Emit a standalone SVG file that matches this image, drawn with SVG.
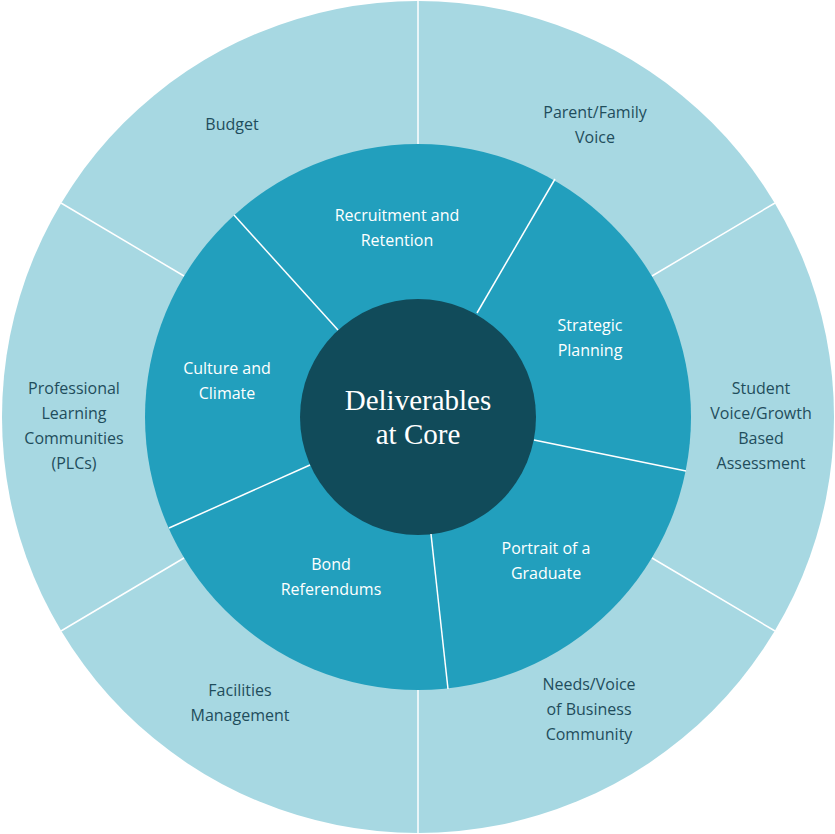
<svg xmlns="http://www.w3.org/2000/svg" width="835" height="834" viewBox="0 0 835 834">
<style>
.o{fill:#1f4d5c;font-family:"Open Sans",sans-serif;font-size:16px;text-anchor:middle}
.m{fill:#ffffff;font-family:"Open Sans",sans-serif;font-size:16px;text-anchor:middle}
.c{fill:#ffffff;font-family:"Liberation Serif",serif;font-size:29px;text-anchor:middle}
.d{stroke:#ffffff;stroke-width:1.5}
</style>
<rect width="835" height="834" fill="#ffffff"/>
<g id="outer-ring"><circle cx="418" cy="417" r="416" fill="#a7d8e2"/></g>
<g id="middle-ring"><circle cx="418" cy="417" r="273" fill="#229fbd"/></g>
<g id="core"><circle cx="418" cy="417" r="118" fill="#114b5a"/>
<text class="c" x="418" y="410">Deliverables</text><text class="c" x="418" y="444">at Core</text></g>
<g id="connectors">
<line class="d" x1="418" y1="144" x2="418" y2="1"/>
<line class="d" x1="652" y1="276" x2="775" y2="203"/>
<line class="d" x1="652" y1="558" x2="775" y2="631"/>
<line class="d" x1="418" y1="690" x2="418" y2="833"/>
<line class="d" x1="184" y1="558" x2="61" y2="631"/>
<line class="d" x1="184" y1="276" x2="61" y2="203"/>
<line class="d" x1="477" y1="313" x2="555" y2="179"/>
<line class="d" x1="534" y1="440" x2="686" y2="471"/>
<line class="d" x1="431" y1="534" x2="448" y2="689"/>
<line class="d" x1="310" y1="465" x2="169" y2="528"/>
<line class="d" x1="338" y1="330" x2="234" y2="215"/>
</g>
<g id="budget"><text class="o" x="232" y="130">Budget</text></g>
<g id="parent"><text class="o" x="595" y="118">Parent/Family</text><text class="o" x="595" y="143">Voice</text></g>
<g id="student"><text class="o" x="761" y="394">Student</text><text class="o" x="761" y="419">Voice/Growth</text><text class="o" x="761" y="444">Based</text><text class="o" x="761" y="469">Assessment</text></g>
<g id="needs"><text class="o" x="589" y="690">Needs/Voice</text><text class="o" x="589" y="715">of Business</text><text class="o" x="589" y="740">Community</text></g>
<g id="facilities"><text class="o" x="240" y="696">Facilities</text><text class="o" x="240" y="721">Management</text></g>
<g id="plc"><text class="o" x="74" y="394">Professional</text><text class="o" x="74" y="419">Learning</text><text class="o" x="74" y="444">Communities</text><text class="o" x="74" y="469">(PLCs)</text></g>
<g id="recruitment"><text class="m" x="397" y="221">Recruitment and</text><text class="m" x="397" y="246">Retention</text></g>
<g id="strategic"><text class="m" x="590" y="331">Strategic</text><text class="m" x="590" y="356">Planning</text></g>
<g id="portrait"><text class="m" x="546" y="554">Portrait of a</text><text class="m" x="546" y="579">Graduate</text></g>
<g id="bond"><text class="m" x="331" y="570">Bond</text><text class="m" x="331" y="595">Referendums</text></g>
<g id="culture"><text class="m" x="227" y="374">Culture and</text><text class="m" x="227" y="399">Climate</text></g>
</svg>
